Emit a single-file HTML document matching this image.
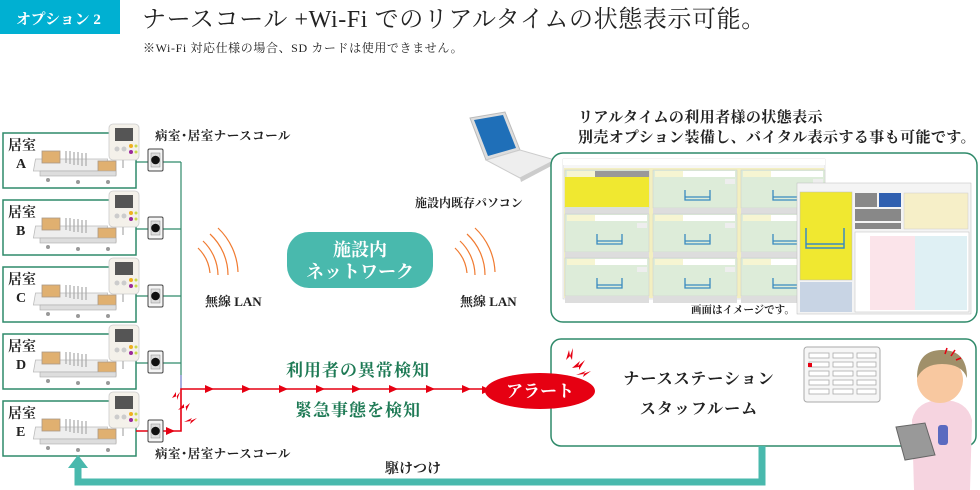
<!DOCTYPE html>
<html><head><meta charset="utf-8"><style>
html,body{margin:0;padding:0;background:#fff;}
svg{display:block;}
text{font-family:"Liberation Serif","Noto Serif CJK SC","Noto Sans CJK JP",serif;}
</style></head><body>
<svg width="980" height="490" viewBox="0 0 980 490" xmlns="http://www.w3.org/2000/svg">
<defs>
  <g id="bed">
    <rect x="0" y="14" width="72" height="12" fill="#eee" stroke="#bbb" stroke-width="0.8" transform="skewX(-10)"/>
    <rect x="4" y="6" width="18" height="12" fill="#e0b070" stroke="#a98" stroke-width="0.8"/>
    <rect x="60" y="16" width="18" height="14" fill="#e0b070" stroke="#a98" stroke-width="0.8"/>
    <g stroke="#aaa" stroke-width="1.2">
      <line x1="28" y1="6" x2="28" y2="18"/><line x1="32" y1="6" x2="32" y2="19"/><line x1="36" y1="7" x2="36" y2="20"/><line x1="40" y1="7" x2="40" y2="20"/><line x1="44" y1="8" x2="44" y2="21"/><line x1="48" y1="8" x2="48" y2="21"/>
    </g>
    <rect x="2" y="26" width="76" height="5" fill="#ddd" stroke="#aaa" stroke-width="0.6"/>
    <circle cx="10" cy="35" r="2" fill="#999"/><circle cx="40" cy="37" r="2" fill="#999"/><circle cx="70" cy="37" r="2" fill="#999"/>
  </g>
  <g id="dev">
    <rect x="0" y="0" width="30" height="36" rx="4" fill="#f4f1ea" stroke="#ccc" stroke-width="0.8"/>
    <rect x="6" y="4" width="18" height="13" fill="#555"/>
    <circle cx="8" cy="25" r="2.5" fill="#ccc"/><circle cx="15" cy="25" r="2.5" fill="#ccc"/>
    <circle cx="22" cy="22" r="2" fill="#f0b020"/><circle cx="22" cy="28" r="2" fill="#9a2a9a"/>
    <circle cx="27" cy="22" r="1.5" fill="#c8d84a"/><circle cx="27" cy="28" r="1.5" fill="#c8d84a"/>
    <line x1="14" y1="36" x2="14" y2="44" stroke="#bbb" stroke-width="1.5"/>
  </g>
  <g id="sw">
    <rect x="0" y="0" width="15" height="22" rx="1.5" fill="#f5f5f5" stroke="#444" stroke-width="1"/>
    <rect x="3" y="4" width="9" height="14" fill="#ddd" stroke="#888" stroke-width="0.5"/>
    <circle cx="7.5" cy="11" r="4.3" fill="#111"/>
  </g>
  <g id="wifi" fill="none" stroke="#f07a30" stroke-width="1.2">
    <path d="M0,20 A40,40 0 0 1 12,45"/>
    <path d="M5,13 A48,48 0 0 1 20,47"/>
    <path d="M12,6 A56,56 0 0 1 30,47"/>
    <path d="M20,0 A64,64 0 0 1 40,44"/>
  </g>
  <g id="scr">
    <rect x="0" y="0" width="84" height="38" fill="#ddecd9" stroke="#ccc" stroke-width="0.5"/>
    <rect x="2" y="1" width="28" height="6" fill="#f6f5d2"/>
    <rect x="30" y="1" width="52" height="6" fill="#fff"/>
    <path d="M32,20 v10 h25 v-10 M32,27 h25" fill="none" stroke="#3a8ac0" stroke-width="1.3"/>
    <rect x="72" y="9" width="10" height="5" fill="#eee"/>
    <rect x="0" y="38" width="84" height="7" fill="#ddd"/>
  </g>
</defs>

<!-- header -->
<rect x="0" y="0" width="120" height="34" fill="#00b0d2"/>
<text x="16" y="24" font-size="15" fill="#fff" font-weight="bold" font-family="Liberation Sans,Noto Sans CJK JP,sans-serif">オプション 2</text>
<text x="142" y="27" font-size="24" fill="#222" letter-spacing="0.6">ナースコール +Wi-Fi でのリアルタイムの状態表示可能。</text>
<text x="143" y="52" font-size="12" fill="#222" letter-spacing="0.6">※Wi-Fi 対応仕様の場合、SD カードは使用できません。</text>

<!-- rooms -->
<g fill="#fff" stroke="#2f8a6a" stroke-width="1.5">
  <rect x="3" y="133" width="133" height="55"/>
  <rect x="3" y="200" width="133" height="55"/>
  <rect x="3" y="267" width="133" height="55"/>
  <rect x="3" y="334" width="133" height="55"/>
  <rect x="3" y="401" width="133" height="55"/>
</g>
<g font-size="14" fill="#222" font-weight="bold">
  <text x="8" y="150">居室</text><text x="16" y="168">A</text>
  <text x="8" y="217">居室</text><text x="16" y="235">B</text>
  <text x="8" y="284">居室</text><text x="16" y="302">C</text>
  <text x="8" y="351">居室</text><text x="16" y="369">D</text>
  <text x="8" y="418">居室</text><text x="16" y="436">E</text>
</g>
<use href="#bed" x="38" y="145"/><use href="#bed" x="38" y="212"/><use href="#bed" x="38" y="279"/><use href="#bed" x="38" y="346"/><use href="#bed" x="38" y="413"/>
<use href="#dev" x="109" y="124"/><use href="#dev" x="109" y="191"/><use href="#dev" x="109" y="258"/><use href="#dev" x="109" y="325"/><use href="#dev" x="109" y="392"/>

<!-- wiring -->
<g stroke="#2f8a6a" stroke-width="1.2" fill="none">
  <path d="M136,162 H181 M136,229 H181 M136,296 H181 M136,363 H181 M181,162 V375"/>
</g>
<line x1="181" y1="375" x2="181" y2="389" stroke="#6a7ac8" stroke-width="1.2"/>
<g stroke="#e60012" stroke-width="1.6" fill="none">
  <path d="M136,431 H181 V389 H490"/>
</g>
<g fill="#e60012">
  <path d="M205,385 l9,4 l-9,4 z"/><path d="M242,385 l9,4 l-9,4 z"/><path d="M279,385 l9,4 l-9,4 z"/><path d="M316,385 l9,4 l-9,4 z"/><path d="M352,385 l9,4 l-9,4 z"/><path d="M389,385 l9,4 l-9,4 z"/><path d="M426,385 l9,4 l-9,4 z"/><path d="M462,385 l9,4 l-9,4 z"/>
  <path d="M166,427 l9,4 l-9,4 z"/>
  <path d="M172,398 l4,-6 l0,5 l4,-5 l-3,8 l0,-4 z"/>
  <path d="M178,410 l6,-6 l0,4 l6,-5 l-4,8 l0,-4 z"/>
  <path d="M184,422 l8,-4 l-2,3 l7,-3 l-7,6 l1,-3 z"/>
</g>
<use href="#sw" x="148" y="149"/><use href="#sw" x="148" y="217"/><use href="#sw" x="148" y="285"/><use href="#sw" x="148" y="351"/><use href="#sw" x="148" y="420"/>
<text x="155" y="140" font-size="12.5" fill="#222" font-weight="bold" letter-spacing="0.5">病室･居室ナースコール</text>
<text x="155" y="458" font-size="12.5" fill="#222" font-weight="bold" letter-spacing="0.5">病室･居室ナースコール</text>

<!-- wifi & network -->
<use href="#wifi" x="198" y="228"/>
<text x="205" y="306" font-size="13" fill="#222" font-weight="bold">無線 LAN</text>
<rect x="287" y="232" width="146" height="56" rx="22" fill="#49b9ad"/>
<text x="360" y="256" font-size="18" fill="#fff" text-anchor="middle" font-weight="bold">施設内</text>
<text x="360" y="278" font-size="18" fill="#fff" text-anchor="middle" font-weight="bold">ネットワーク</text>
<use href="#wifi" x="455" y="228"/>
<text x="460" y="306" font-size="13" fill="#222" font-weight="bold">無線 LAN</text>

<!-- laptop -->
<polygon points="470,118 505,112 520,150 486,160" fill="#ddd" stroke="#bbb"/>
<polygon points="474,120 503,115 516,148 488,156" fill="#1f6fb8"/>
<polygon points="486,160 520,150 555,160 520,178" fill="#eee" stroke="#ccc"/>
<polygon points="520,178 555,160 555,164 521,182" fill="#ccc"/>
<text x="415" y="207" font-size="12" fill="#222" font-weight="bold">施設内既存パソコン</text>

<!-- right texts -->
<text x="578" y="122" font-size="15" fill="#222" font-weight="bold" letter-spacing="0.4">リアルタイムの利用者様の状態表示</text>
<text x="578" y="142" font-size="15" fill="#222" font-weight="bold" letter-spacing="0.4">別売オプション装備し、バイタル表示する事も可能です。</text>

<!-- screen panel -->
<rect x="551" y="153" width="426" height="169" rx="12" fill="#fff" stroke="#2f8a6a" stroke-width="1.5"/>
<rect x="563" y="159" width="262" height="140" fill="#f6f6f6" stroke="#ccc" stroke-width="0.5"/>
<rect x="563" y="159" width="262" height="6" fill="#fff"/>
<rect x="564" y="168" width="260" height="130" fill="#f3efc0"/>
<use href="#scr" x="565" y="170"/><use href="#scr" x="653" y="170"/><use href="#scr" x="741" y="170"/>
<use href="#scr" x="565" y="214"/><use href="#scr" x="653" y="214"/><use href="#scr" x="741" y="214"/>
<use href="#scr" x="565" y="258"/><use href="#scr" x="653" y="258"/><use href="#scr" x="741" y="258"/>
<rect x="565" y="177" width="84" height="30" fill="#f0e830"/>
<rect x="595" y="171" width="54" height="6" fill="#999"/>
<!-- detail window -->
<rect x="797" y="183" width="174" height="131" fill="#f4f4f4" stroke="#bbb" stroke-width="0.5"/>
<rect x="800" y="192" width="52" height="88" fill="#f0e830" stroke="#bbb" stroke-width="0.5"/>
<path d="M806,228 v20 h38 v-20 M806,244 h38" fill="none" stroke="#3a8ac0" stroke-width="1.5"/>
<rect x="800" y="282" width="52" height="30" fill="#c8d4e4"/>
<rect x="855" y="193" width="22" height="14" fill="#888"/><rect x="879" y="193" width="22" height="14" fill="#3060b0"/>
<rect x="855" y="209" width="46" height="12" fill="#888"/><rect x="855" y="223" width="46" height="6" fill="#888"/>
<rect x="904" y="193" width="64" height="36" fill="#f6efc8" stroke="#ccc" stroke-width="0.5"/>
<rect x="855" y="232" width="114" height="80" fill="#fff" stroke="#bbb" stroke-width="0.5"/>
<rect x="870" y="236" width="45" height="74" fill="#fbe4ea"/><rect x="915" y="236" width="52" height="74" fill="#dff0f4"/>
<text x="691" y="313" font-size="10.5" fill="#222" font-weight="bold">画面はイメージです。</text>

<!-- nurse station -->
<rect x="551" y="339" width="425" height="107" rx="10" fill="#fff" stroke="#2f8a6a" stroke-width="1.5"/>
<text x="699" y="384" font-size="16" fill="#222" text-anchor="middle" font-weight="bold" letter-spacing="1">ナースステーション</text>
<text x="699" y="414" font-size="16" fill="#222" text-anchor="middle" font-weight="bold" letter-spacing="1">スタッフルーム</text>
<rect x="804" y="347" width="76" height="55" rx="3" fill="#f6f6f6" stroke="#aaa"/>
<g fill="#fff" stroke="#aaa" stroke-width="0.8">
  <rect x="809" y="353" width="20" height="5"/><rect x="833" y="353" width="20" height="5"/><rect x="857" y="353" width="19" height="5"/>
  <rect x="809" y="362" width="20" height="5"/><rect x="833" y="362" width="20" height="5"/><rect x="857" y="362" width="19" height="5"/>
  <rect x="809" y="371" width="20" height="5"/><rect x="833" y="371" width="20" height="5"/><rect x="857" y="371" width="19" height="5"/>
  <rect x="809" y="380" width="20" height="5"/><rect x="833" y="380" width="20" height="5"/><rect x="857" y="380" width="19" height="5"/>
  <rect x="809" y="389" width="20" height="5"/><rect x="833" y="389" width="20" height="5"/><rect x="857" y="389" width="19" height="5"/>
</g>
<rect x="808" y="363" width="4" height="4" fill="#e60012"/>
<!-- nurse -->
<path d="M912,420 q5,-20 30,-20 q25,0 30,20 l-2,70 h-56 z" fill="#f6d4e0"/>
<circle cx="940" cy="380" r="23" fill="#f8c8a0"/>
<path d="M917,378 q0,-28 25,-28 q25,0 25,28 q-5,-14 -25,-14 q-18,0 -25,14z" fill="#a0906a"/>
<polygon points="896,427 925,423 935,455 905,460" fill="#999" stroke="#666"/>
<rect x="938" y="425" width="10" height="20" rx="3" fill="#5a6ac0"/>
<g fill="#e60012">
  <path d="M566,360 l3,-10 l1,6 l3,-8 l-1,12 l-2,-4z"/><path d="M572,368 l8,-7 l-2,5 l7,-6 l-6,10 l0,-3z"/><path d="M576,375 l10,-4 l-3,3 l8,-3 l-8,6 l1,-3z"/>
</g>
<g stroke="#e60012" stroke-width="1.5"><line x1="945" y1="354" x2="947" y2="348"/><line x1="951" y1="356" x2="955" y2="350"/><line x1="956" y1="360" x2="961" y2="358"/></g>

<!-- alert -->
<ellipse cx="540" cy="391" rx="55" ry="18" fill="#e60012"/>
<text x="540" y="397" font-size="17" fill="#fff" text-anchor="middle" font-weight="bold">アラート</text>
<path d="M482,386 l9,4 l-9,4 z" fill="#e60012"/>

<!-- labels green -->
<text x="358" y="376" font-size="17" fill="#1e7a55" text-anchor="middle" font-weight="bold" letter-spacing="1">利用者の異常検知</text>
<text x="358" y="416" font-size="17" fill="#1e7a55" text-anchor="middle" font-weight="bold" letter-spacing="1">緊急事態を検知</text>

<!-- return path -->
<path d="M762,446 V482 H78 V466" fill="none" stroke="#49b9ad" stroke-width="7"/>
<path d="M68,468 L78,455 L88,468 z" fill="#49b9ad"/>
<text x="385" y="473" font-size="14" fill="#222" font-weight="bold">駆けつけ</text>
</svg>
</body></html>
